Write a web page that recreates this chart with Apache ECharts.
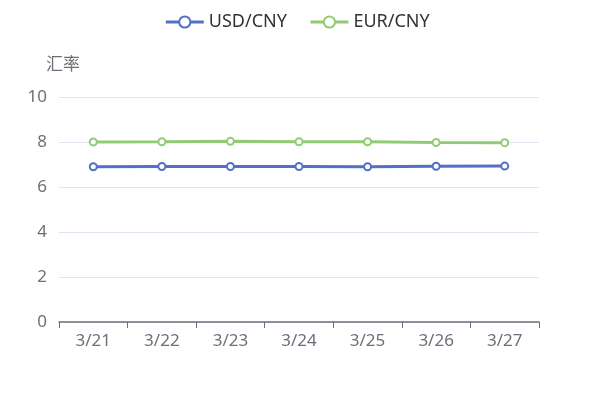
<!DOCTYPE html>
<html>
<head>
<meta charset="utf-8">
<script src="https://cdn.jsdelivr.net/npm/echarts@6/dist/echarts.min.js"></script>
<style>
html, body { margin: 0; padding: 0; background: #fff; }
#main { width: 594px; height: 407px; }
</style>
</head>
<body>
<div id="main"></div>
<script>
var dates = ['3/21', '3/22', '3/23', '3/24', '3/25', '3/26', '3/27'];
var usdCny = [6.90, 6.91, 6.91, 6.91, 6.90, 6.92, 6.93];
var eurCny = [8.00, 8.01, 8.03, 8.01, 8.01, 7.98, 7.97];

var font = '"Noto Sans", "Noto Sans CJK SC", sans-serif';
var myChart = echarts.init(document.getElementById('main'));
myChart.setOption({
    textStyle: { fontFamily: font },
    legend: {
        top: 8,
        left: 'center',
        itemWidth: 38,
        itemHeight: 14,
        itemGap: 22,
        itemStyle: { borderWidth: 3 },
        lineStyle: { width: 3 },
        textStyle: { fontSize: 18, color: '#333', fontFamily: font },
        data: ['USD/CNY', 'EUR/CNY']
    },
    grid: { left: 59, right: 55, top: 97, bottom: 85 },
    xAxis: {
        type: 'category',
        data: dates,
        axisLine: { lineStyle: { color: '#6e7079', width: 1.5 } },
        axisTick: { show: true, lineStyle: { color: '#6e7079' }, length: 6 },
        axisLabel: { fontSize: 17, color: '#6e7079', margin: 11, fontFamily: font }
    },
    yAxis: {
        type: 'value',
        name: '汇率',
        min: 0,
        max: 10,
        interval: 2,
        nameGap: 23,
        nameTextStyle: { fontSize: 17, color: '#6e7079', align: 'center', padding: [0, 0, 0, 8], fontFamily: font },
        axisLabel: { fontSize: 17, color: '#6e7079', margin: 12, fontFamily: font },
        splitLine: { lineStyle: { color: '#e0e6f1' } }
    },
    series: [
        {
            name: 'USD/CNY',
            type: 'line',
            data: usdCny,
            color: '#5470c6',
            symbol: 'emptyCircle',
            symbolSize: 7,
            lineStyle: { width: 3 },
            itemStyle: { borderWidth: 2.5 }
        },
        {
            name: 'EUR/CNY',
            type: 'line',
            data: eurCny,
            color: '#91cc75',
            symbol: 'emptyCircle',
            symbolSize: 7,
            lineStyle: { width: 3 },
            itemStyle: { borderWidth: 2.5 }
        }
    ]
});
</script>
</body>
</html>
